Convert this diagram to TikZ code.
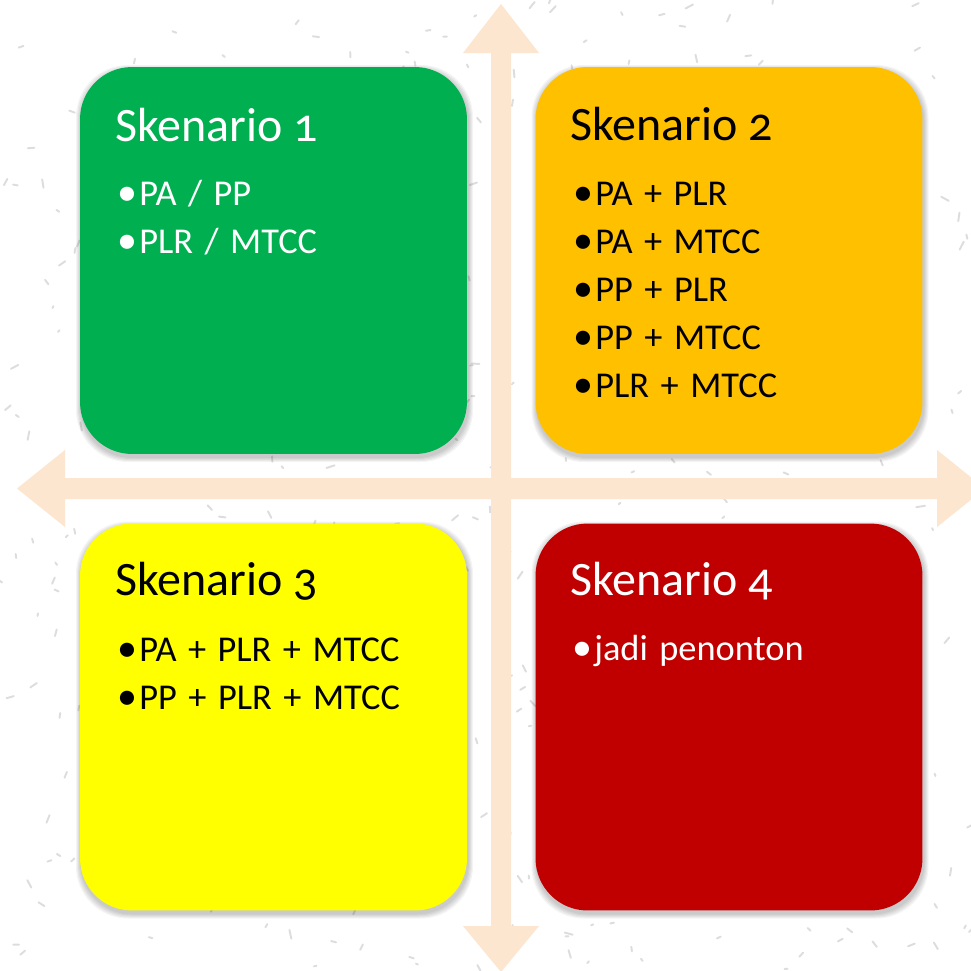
\documentclass[tikz,border=0pt]{standalone}
\usepackage{fontspec}
\setmainfont[Numbers=OldStyle]{Carlito}
\newfontfamily\itemfont[Numbers=OldStyle, WordSpace=1.4]{Carlito}
\definecolor{arrowpeach}{HTML}{FDE6CF}
\definecolor{sgreen}{HTML}{00B050}
\definecolor{sorange}{HTML}{FFC000}
\definecolor{syellow}{HTML}{FFFF00}
\definecolor{sred}{HTML}{C00000}
\definecolor{speck}{HTML}{DDDDDD}
\tikzset{
  quad/.style={rectangle, rounded corners=1.04cm, inner sep=0pt,
    minimum width=7.74cm, minimum height=7.74cm},
  shade/.style={rectangle, rounded corners=1.04cm, inner sep=0pt, fill=black, fill opacity=0.045, draw=none},
  title/.style={anchor=base west, inner sep=0pt, font=\fontsize{27.3pt}{34pt}\selectfont},
  item/.style={anchor=base west, inner sep=0pt, font=\itemfont\fontsize{20.7pt}{24pt}\selectfont},
  bigarrow/.style={fill=arrowpeach, draw=none}
}
\newcommand{\bul}[1]{\llap{\scalebox{1.1}{•}\hspace{0.04em}}#1}
\newcommand{\softshadow}[2]{%
  \foreach \k in {1,...,5}{
    \node[shade, minimum width={(387+2*\k)*0.02cm}, minimum height={(387+2*\k)*0.02cm}] at (#1+1,#2+3) {};
  }}
\begin{document}
\begin{tikzpicture}[x=0.02cm, y=-0.02cm]
\useasboundingbox (0,0) rectangle (971,971);
\clip (0,0) rectangle (971,971);
\fill[white] (0,0) rectangle (971,971);
% faint speckle texture
\pgfmathsetseed{7}
\foreach \i in {1,...,500}{
  \pgfmathsetmacro{\px}{rnd*971}
  \pgfmathsetmacro{\py}{rnd*971}
  \pgfmathsetmacro{\ang}{rnd*180}
  \pgfmathsetmacro{\len}{2+rnd*7}
  \draw[speck, line width=1.1pt, line cap=round] (\px,\py) -- ++(\ang:{\len*0.02cm});
}
% vertical double arrow
\fill[bigarrow] (501,4) -- (539,53) -- (511,53) -- (511,926) -- (539,926) -- (501,972)
  -- (463,926) -- (491,926) -- (491,53) -- (463,53) -- cycle;
% horizontal double arrow
\fill[bigarrow] (17,488.5) -- (65,450) -- (65,478) -- (937,478) -- (937,450) -- (985,488.5)
  -- (937,527) -- (937,499) -- (65,499) -- (65,527) -- cycle;
% shadows
\softshadow{273.5}{260.5}
\softshadow{729}{260.5}
\softshadow{273.5}{717}
\softshadow{729}{717}
% boxes
\node[quad, fill=sgreen]  (q1) at (273.5,260.5) {};
\node[quad, fill=sorange] (q2) at (729,260.5) {};
\node[quad, fill=syellow] (q3) at (273.5,717) {};
\node[quad, fill=sred]    (q4) at (729,717) {};
% texts box 1
\node[title, text=white] (t1) at (115,141) {Skenario 1};
\node[item, text=white] (a1) at (139,205) {\bul{PA / PP}};
\node[item, text=white] (a2) at (139,253) {\bul{PLR / MTCC}};
% box 2
\node[title, text=black] (t2) at (570,140) {Skenario 2};
\node[item] (b1) at (595,205) {\bul{PA + PLR}};
\node[item] (b2) at (595,253) {\bul{PA + MTCC}};
\node[item] (b3) at (595,301) {\bul{PP + PLR}};
\node[item] (b4) at (595,349) {\bul{PP + MTCC}};
\node[item] (b5) at (595,397) {\bul{PLR + MTCC}};
% box 3
\node[title, text=black] (t3) at (115,595) {Skenario 3};
\node[item] (c1) at (139,661) {\bul{PA + PLR + MTCC}};
\node[item] (c2) at (139,709) {\bul{PP + PLR + MTCC}};
% box 4
\node[title, text=white] (t4) at (570,595) {Skenario 4};
\node[item, text=white] (d1) at (594,660) {\bul{jadi penonton}};
\end{tikzpicture}
\end{document}
